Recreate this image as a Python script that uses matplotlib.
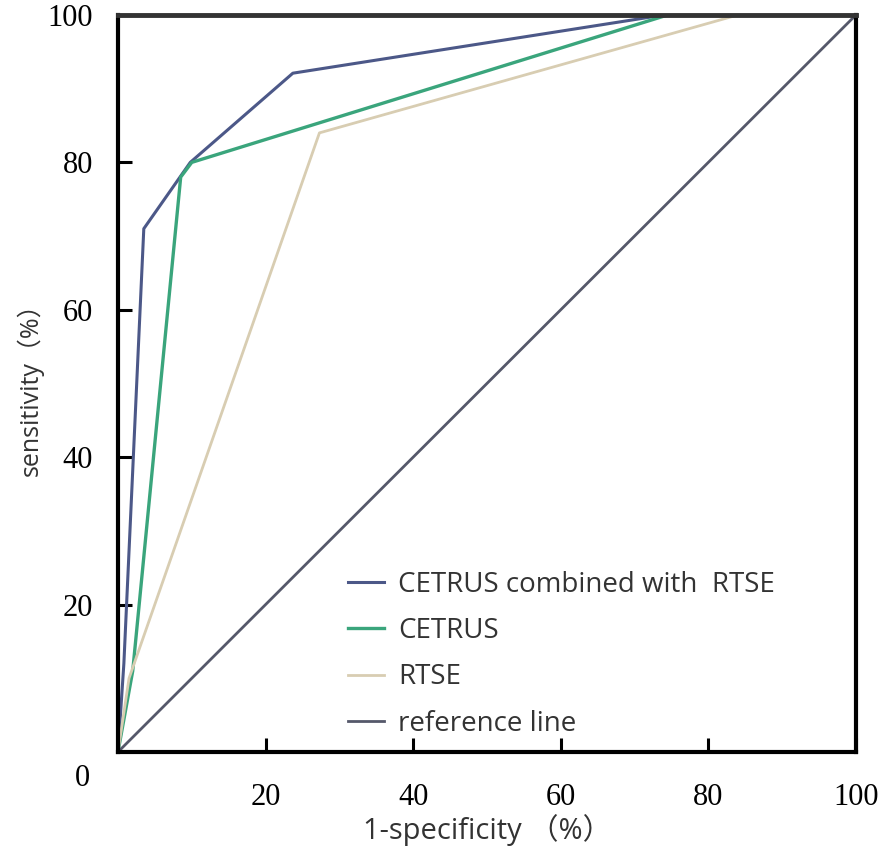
import matplotlib
matplotlib.use('Agg')
import matplotlib.pyplot as plt

# ROC curves (1-specificity %, sensitivity %)
combined_x = [0, 0.8, 3.5, 9.8, 23.7, 74, 100]
combined_y = [0, 12, 71, 80, 92.1, 100, 100]
cetrus_x = [0, 2, 8.5, 10, 74.5, 100]
cetrus_y = [0, 11, 78, 80, 100, 100]
rtse_x = [0, 1.5, 27.3, 84, 100]
rtse_y = [0, 10, 84, 100, 100]
ref_x = [0, 100]
ref_y = [0, 100]

labels = ['CETRUS combined with  RTSE', 'CETRUS', 'RTSE', 'reference line']
ticks = [20, 40, 60, 80, 100]

fig = plt.figure(figsize=(8.89, 8.5), dpi=100)
ax = fig.add_axes([0.1327, 0.1153, 0.8301, 0.8671])

l1, = ax.plot(combined_x, combined_y, color='#4c5888', lw=2.2)
l2, = ax.plot(cetrus_x, cetrus_y, color='#3aa57c', lw=2.4)
l3, = ax.plot(rtse_x, rtse_y, color='#d8cdb2', lw=2.0)
l4, = ax.plot(ref_x, ref_y, color='#55586a', lw=2.0)

ax.set_xlim(0, 100)
ax.set_ylim(0, 100)
ax.set_xticks(ticks)
ax.set_yticks(ticks)
ax.tick_params(direction='in', length=10, width=2.2, color='black',
               labelsize=22, pad=18)
for lab in ax.get_xticklabels() + ax.get_yticklabels():
    lab.set_family('Liberation Serif')
ax.tick_params(axis='x', pad=22)

for s in ax.spines.values():
    s.set_linewidth(3)
    s.set_color('black')
ax.spines['top'].set_color('#333333')
ax.spines['top'].set_linewidth(3.5)

fig.text(82 / 889, 1 - 779 / 850, '0', family='Liberation Serif', fontsize=22,
         ha='center', va='center')

lab_font = ['Open Sans', 'Noto Sans CJK SC']
ax.set_xlabel('1-specificity （%）', family=lab_font, fontsize=21, labelpad=2,
              color='#333333')
ax.set_ylabel('sensitivity（%）', family=lab_font, fontsize=18, labelpad=3,
              color='#333333')

leg = ax.legend([l1, l2, l3, l4], labels, loc='upper left',
                bbox_to_anchor=(0.312, 0.246), frameon=False,
                prop={'family': 'Open Sans', 'size': 20}, handlelength=1.3,
                handletextpad=0.5, labelspacing=0.66, borderpad=0,
                borderaxespad=0)
for t in leg.get_texts():
    t.set_color('#333333')

fig.savefig('out.png', dpi=100)
